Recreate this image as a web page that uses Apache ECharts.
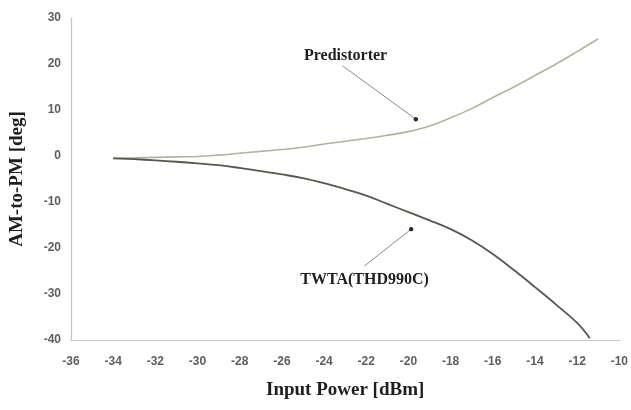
<!DOCTYPE html>
<html>
<head>
<meta charset="utf-8">
<script src="https://cdn.jsdelivr.net/npm/echarts@6/dist/echarts.min.js"></script>
<style>
  html, body { margin: 0; padding: 0; background: #ffffff; }
  #chart { width: 631px; height: 410px; }
</style>
</head>
<body>
<div id="chart"></div>
<script>
// AM-to-PM conversion versus input drive level
const predX = [-34, -33, -32, -31, -30, -29, -28, -27, -26, -25, -24, -23, -22, -21, -20, -19, -18, -17, -16, -15, -14, -13, -12, -11];
const predY = [-0.45, -0.4, -0.3, -0.2, -0.1, 0.2, 0.6, 1.0, 1.4, 1.9, 2.6, 3.2, 3.8, 4.5, 5.3, 6.5, 8.3, 10.3, 12.7, 15.0, 17.5, 20.0, 22.7, 25.5];

const twtaX = [-34, -33, -32, -31, -30, -29, -28, -27, -26, -25, -24, -23, -22, -21, -20, -19, -18, -17, -16, -15, -14, -13, -12, -11.4];
const twtaY = [-0.5, -0.7, -0.95, -1.25, -1.6, -2.0, -2.6, -3.3, -4.0, -4.8, -5.9, -7.2, -8.6, -10.4, -12.2, -14.0, -15.9, -18.3, -21.3, -24.8, -28.5, -32.3, -36.3, -39.6];

const xRange = [-36, -10], xStep = 2;
const yRange = [-40, 30], yStep = 10;

const xTitle = 'Input Power [dBm]';
const yTitle = 'AM-to-PM [deg]';
const predName = 'Predistorter';
const twtaName = 'TWTA(THD990C)';

// callout anchors in data units: label centre, leader start, arrow tip
const predCallout = { label: [-22.98, 21.8], from: [-23.12, 19.6], tip: [-19.65, 8.0] };
const twtaCallout = { label: [-22.08, -27.0], from: [-22.08, -23.9], tip: [-19.87, -15.9] };

const pairs = (xs, ys) => xs.map((x, i) => [x, ys[i]]);

const chart = echarts.init(document.getElementById('chart'), null, { renderer: 'canvas' });

const serif = '"Liberation Serif", "DejaVu Serif", serif';
const sans = '"Liberation Sans", Arial, sans-serif';

chart.setOption({
  animation: false,
  backgroundColor: '#ffffff',
  grid: { left: 69, right: 9, top: 18, bottom: 70, containLabel: false },
  xAxis: {
    type: 'value',
    min: xRange[0], max: xRange[1], interval: xStep,
    name: xTitle,
    nameLocation: 'middle',
    nameGap: 41,
    nameTextStyle: { fontFamily: serif, fontWeight: 'bold', fontSize: 19, color: '#1e1e1e' },
    axisLine: { onZero: false, lineStyle: { color: '#c4c4c4', width: 1.2 } },
    axisTick: { show: false },
    splitLine: { show: false },
    axisLabel: { margin: 16, fontFamily: sans, fontSize: 12, color: '#5e5e5e', fontWeight: 'bold' }
  },
  yAxis: {
    type: 'value',
    min: yRange[0], max: yRange[1], interval: yStep,
    name: yTitle,
    nameLocation: 'middle',
    nameGap: 44,
    nameRotate: 90,
    nameTextStyle: { fontFamily: serif, fontWeight: 'bold', fontSize: 19, color: '#1e1e1e' },
    axisLine: { show: true, onZero: false, lineStyle: { color: '#c4c4c4', width: 1.2 } },
    axisTick: { show: false },
    splitLine: { show: false },
    axisLabel: { margin: 10, fontFamily: sans, fontSize: 12, color: '#5e5e5e', fontWeight: 'bold' }
  },
  series: [
    {
      name: predName,
      type: 'line',
      data: pairs(predX, predY),
      smooth: 0.4,
      showSymbol: false,
      lineStyle: { color: '#b3b19f', width: 1.6 }
    },
    {
      name: twtaName,
      type: 'line',
      data: pairs(twtaX, twtaY),
      smooth: 0.4,
      showSymbol: false,
      lineStyle: { color: '#57574f', width: 1.8 }
    }
  ]
});

// leader lines, arrow dots and callout text placed through the axes
function callout(c, text) {
  const p = (v) => chart.convertToPixel({ gridIndex: 0 }, v);
  const lab = p(c.label), from = p(c.from), tip = p(c.tip);
  return [
    {
      type: 'line',
      shape: { x1: from[0], y1: from[1], x2: tip[0], y2: tip[1] },
      style: { stroke: '#8a8a8a', lineWidth: 1 }
    },
    {
      type: 'circle',
      shape: { cx: tip[0], cy: tip[1], r: 2.2 },
      style: { fill: '#2a2a2a' }
    },
    {
      type: 'text',
      x: lab[0], y: lab[1],
      style: {
        text: text,
        align: 'center', verticalAlign: 'middle',
        font: 'bold 16px ' + serif,
        fill: '#1e1e1e'
      }
    }
  ];
}

chart.setOption({
  graphic: { elements: [].concat(callout(predCallout, predName), callout(twtaCallout, twtaName)) }
});
</script>
</body>
</html>
